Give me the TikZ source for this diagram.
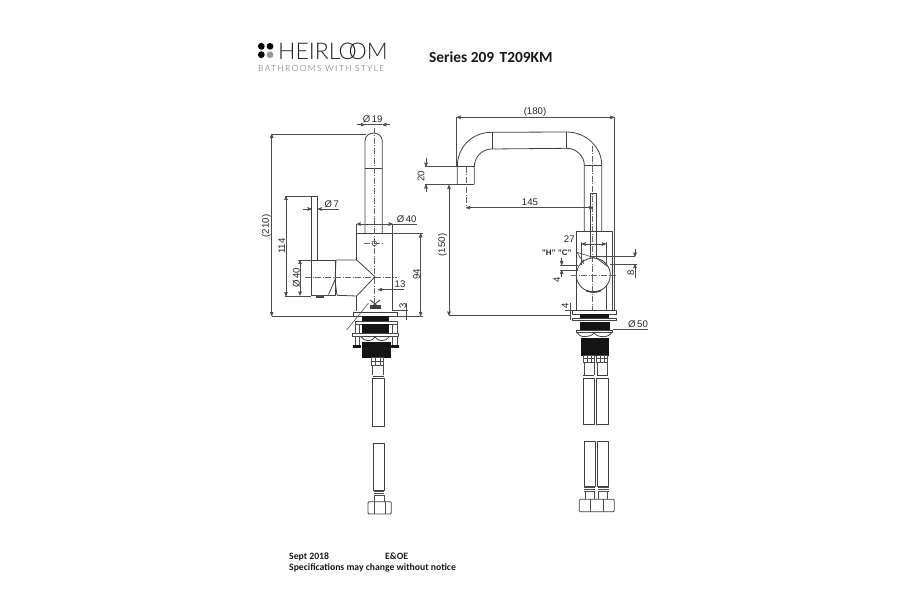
\documentclass[tikz,border=0pt]{standalone}
\usepackage{fontspec}
\usetikzlibrary{arrows}
\newfontfamily\logofont{Lato Light}
\newfontfamily\notefont{Carlito}
\setmainfont{Liberation Sans}

\tikzset{
  part/.style={draw=black!75,line width=.8pt,line join=round},
  thin part/.style={draw=black!70,line width=.6pt},
  solid part/.style={fill=black!92,draw=black!92},
  dimline/.style={draw=black!70,line width=.6pt},
  arrowed/.style={dimline,<->,>=stealth'},
  centerline/.style={draw=black!60,line width=.5pt,dash pattern=on 6pt off 1.5pt on 1pt off 1.5pt},
  dimtext/.style={inner sep=0pt,font=\fontsize{9.6}{10}\selectfont,text=black!85},
  notetext/.style={inner sep=0pt,anchor=base west,font=\notefont\bfseries\fontsize{9.7}{10}\selectfont,text=black!90},
}

\begin{document}
\begin{tikzpicture}[x=1pt,y=-1pt]
  \useasboundingbox (0,0) rectangle (900,615);

  % logo
  \foreach \dotx/\doty/\dotcol in {261.3/46.3/black,270/46.3/black,261.3/54.7/black,270/54.7/black!40}
    \fill[\dotcol] (\dotx,\doty) circle (3.4);
  \node[inner sep=0pt,anchor=west,font=\logofont\fontsize{23}{23}\selectfont,text=black!85] (logo) at (278,51)
    {HEIRL\kern-.08em O\kern-.36em OM};
  \node[inner sep=0pt,anchor=west,font=\logofont\fontsize{8.5}{9}\selectfont,text=black!65] (tagline) at (258,68.5)
    {\addfontfeature{LetterSpace=16}BATHROOMS WITH STYLE};
  \node[inner sep=0pt,anchor=west,font=\notefont\bfseries\fontsize{15.4}{15}\selectfont,text=black!90] (series) at (429,57.5)
    {Series 209\hspace{.35em}T209KM};

  % side view: spout and body
  \draw[part] (365,234) -- (365,141) .. controls (365,136) and (369,133) .. (373.7,133)
    .. controls (378,133) and (382.3,136) .. (382.3,141) -- (382.3,234);
  \draw[part] (365,168) -- (382.3,168);
  \draw[part] (356.7,260) -- (356.7,233.5) -- (392.7,233.5) -- (392.7,310.7);
  \draw[part] (356.7,296) -- (356.7,310.7);
  % side view: handle
  \draw[part] (311.7,260) -- (311.7,196) -- (317.7,196) -- (317.7,260);
  \draw[part] (311,260) rectangle (335.5,295.3);
  \draw[part] (335.5,260) -- (356.7,260) -- (375,276.7) -- (356.7,296) -- (337,295.3);
  \draw[part] (336,260) -- (335,280) -- (337,295.3);
  \draw[part] (335,280) -- (328.5,294.5);
  \fill[black!70] (316,295.3) rectangle (323.5,298.2);
  % side view: small valve under the body
  \draw[part] (370,300) -- (380,308) (380,300) -- (370,308);
  \fill[black!75] (370,305) rectangle (381,309);

  % side view: centre lines
  \draw[centerline] (374.3,128) -- (374.3,303);
  \draw[centerline] (305,277.3) -- (396.7,277.3);
  \draw[thin part] (374.3,243.3) circle (2.4);
  \draw[centerline] (364.3,243.3) -- (384.3,243.3);

  % side view: dimensions
  \draw[dimline] (271.5,134) -- (366,134);
  \draw[dimline] (271.5,316) -- (423,316);
  \draw[arrowed] (271.7,134) -- (271.7,316);
  \node[dimtext,rotate=90] (d210) at (266.5,226) {(210)};
  \draw[dimline] (285,196) -- (311.7,196) (285,296) -- (311,296);
  \draw[arrowed] (286,196) -- (286,296);
  \node[dimtext,rotate=90] (d114) at (281.7,246) {114};
  \draw[dimline] (298,260) -- (311,260);
  \draw[arrowed] (300,260) -- (300,295.5);
  \node[dimtext,rotate=90] (d40a) at (296.3,278) {\O\,40};
  \draw[dimline,->,>=stealth'] (356.7,124.7) -- (365,124.7);
  \draw[dimline,->,>=stealth'] (390,124.7) -- (382.3,124.7);
  \draw[dimline] (365,124.7) -- (382.3,124.7);
  \node[dimtext] (d19) at (372.7,119.5) {\O\,19};
  \draw[dimline,->,>=stealth'] (303,209) -- (311.7,209);
  \draw[dimline,->,>=stealth'] (339,209) -- (317.7,209);
  \node[dimtext] (d7) at (331.7,204) {\O\,7};
  \draw[dimline] (356.7,224) -- (356.7,233) (392.7,224) -- (392.7,233);
  \draw[arrowed] (356.7,224) -- (392.7,224);
  \draw[dimline] (392.7,224) -- (416.7,224);
  \node[dimtext] (d40b) at (406.7,219) {\O\,40};
  \draw[dimline] (392.7,233.5) -- (423,233.5);
  \draw[arrowed] (420.7,233.5) -- (420.7,316);
  \node[dimtext,rotate=90] (d94) at (416.5,274) {94};
  \draw[dimline,<-,>=stealth'] (378,289.7) -- (404,289.7);
  \node[dimtext] (d13) at (400,284.5) {13};
  \draw[dimline] (392.7,310.4) -- (408,310.4);
  \draw[dimline] (406.7,303) -- (406.7,320);
  \node[dimtext,rotate=90] (d3) at (402.7,306) {3};
  \draw[dimline] (346.7,330) -- (368.3,303.3);

  % side view: mounting
  \draw[part] (353.3,312.3) rectangle (397.3,316);
  \filldraw[solid part] (361.7,316) rectangle (388.3,320.5);
  \draw[part] (355,321.7) rectangle (397.3,324.3);
  \filldraw[solid part] (361.7,324.3) rectangle (388.3,333.3);
  \draw[part] (352.7,333.3) rectangle (398.3,336);
  \foreach \boltx in {355,392.3} {
    \draw[thin part] (\boltx,324.3) rectangle (\boltx+4.5,333.3);
    \draw[thin part] (\boltx,336) rectangle (\boltx+4.5,345);
    \filldraw[solid part] (\boltx-1.5,345.5) rectangle (\boltx+5.5,347.5);
  }
  \draw[part] (361,336.5) .. controls (364,342) and (372,342) .. (375,337) .. controls (378,342) and (386,342) .. (389.5,336.5);
  \filldraw[solid part] (361.7,341.8) rectangle (390,357.3);

  % side view: hose
  \draw[thin part] (371.7,357.3) rectangle (383.3,365);
  \draw[thin part] (371.7,361) -- (383.3,361) (375,357.3) -- (375,365) (380,357.3) -- (380,365);
  \draw[thin part] (372.5,365) -- (372.5,375) (383,365) -- (383,375);
  \draw[part] (372.7,376.3) -- (384,376.3);
  \draw[part] (372.7,378) rectangle (384,426.7);
  \draw[part] (373.3,443.3) rectangle (384.3,490);
  \foreach \ridgey in {491,493,495} \draw[thin part] (374,\ridgey) -- (384,\ridgey);
  \draw[thin part] (374.7,495) -- (374.7,501.7) (384,495) -- (384,501.7);
  \draw[part,rounded corners=1pt] (368,501.7) rectangle (391.3,514);
  \draw[thin part] (374,501.7) -- (374,514) (385,501.7) -- (385,514);

  % front view: spout
  \draw[part] (457.3,184.5) -- (457.3,166.7) .. controls (457.3,147) and (472,132.3) .. (491.7,132.3)
    -- (566.7,132) .. controls (586,132) and (601.7,147) .. (601.7,165) -- (601.7,232);
  \draw[part] (474.3,184.5) -- (474.3,166.7) .. controls (474.3,157) and (482,149) .. (491.7,149)
    -- (566.7,148.3) .. controls (576,148.3) and (584.3,156) .. (584.3,165) -- (584.3,232);
  \draw[part] (457.3,166.7) -- (474.3,166.7) (457.3,184.5) -- (474.3,184.5);
  \draw[part] (492,132.3) -- (492,149) (566.3,132) -- (566.3,148.3);
  \draw[part] (584.3,165) -- (601.7,165);
  % front view: lever and body
  \draw[part] (590.3,258) -- (590.3,193.3) -- (596,193.3) -- (596,258);
  \draw[centerline] (592.7,146) -- (592.7,310);
  \draw[centerline] (466,167) -- (466,207);
  \draw[part] (576,310) -- (576,231.7) -- (612.3,231.7) -- (612.3,310);
  \draw[part] (593.3,275) circle (17);
  \draw[centerline] (571,275) -- (616,275);
  \draw[part,line width=1.6pt] (586,290.5) .. controls (590,292.5) and (597,292.5) .. (601,290.5);
  \draw[part,line width=1.2pt] (580.5,264) -- (584,260);
  \draw[part] (597,258.5) -- (607,266);
  \draw[dimline] (606.5,285) -- (606.5,310);

  % front view: dimensions
  \draw[dimline] (456.7,117.3) -- (456.7,166) (614.3,117.3) -- (614.3,310);
  \draw[arrowed] (456.7,117.3) -- (614.3,117.3);
  \node[dimtext] (d180) at (535,112.3) {(180)};
  \draw[dimline] (425,166.7) -- (457.3,166.7) (425,184.5) -- (457.3,184.5);
  \draw[dimline,->,>=stealth'] (426,158) -- (426,166.7);
  \draw[dimline,->,>=stealth'] (426,192) -- (426,184.5);
  \node[dimtext,rotate=90] (d20) at (421,176) {20};
  \draw[arrowed] (466,207.7) -- (593.3,207.7);
  \node[dimtext] (d145) at (530,202.3) {145};
  \draw[dimline] (449,315.5) -- (570,315.5);
  \draw[arrowed] (449,185) -- (449,315.5);
  \node[dimtext,rotate=90] (d150) at (442.7,245) {(150)};
  \draw[dimline] (581.7,242) -- (581.7,265) (606,242) -- (606,265);
  \draw[arrowed] (581.7,244) -- (606,244);
  \node[dimtext] (d27) at (569.3,239.3) {27};
  \node[dimtext,font=\fontsize{8}{8}\selectfont\bfseries] (hc) at (556.7,252.3) {"H" "C"};
  \draw[dimline] (577,252.3) -- (584,264) (577,252.3) -- (595,258);
  \draw[dimline] (590.7,256.7) -- (635,256.7) (610,264) -- (636.7,264);
  \draw[dimline,->,>=stealth'] (635,249) -- (635,256.7);
  \draw[dimline,->,>=stealth'] (635,278) -- (635,264);
  \node[dimtext,rotate=90] (d8) at (630.7,273) {8};
  \draw[dimline] (560,265) -- (578,265) (560,270) -- (578,270);
  \draw[dimline,->,>=stealth'] (561.7,258) -- (561.7,265);
  \draw[dimline,->,>=stealth'] (561.7,277) -- (561.7,270);
  \node[dimtext,rotate=90] (d4a) at (556.7,280) {4};
  \draw[dimline] (565,310) -- (572.7,310) (570,303) -- (570,320);
  \node[dimtext,rotate=90] (d4b) at (565,306) {4};
  \draw[dimline] (613,329) -- (648,329);
  \node[dimtext] (d50) at (638,323.7) {\O\,50};

  % front view: mounting
  \draw[part] (572.7,310.5) rectangle (616.7,314);
  \filldraw[solid part] (580,314) rectangle (608.3,317.3);
  \draw[part] (572.7,318.3) rectangle (616.7,320.5);
  \filldraw[solid part] (580,321.7) rectangle (609.3,330);
  \draw[part] (576,330.5) rectangle (612,332.5);
  \draw[part] (577,332.5) .. controls (579,338) and (590,338) .. (594,333) .. controls (598,338) and (609,338) .. (611.5,332.5);
  \filldraw[solid part] (581,338) rectangle (608.3,355);

  % front view: hoses
  \foreach \hosex in {583.3,596.7} {
    \draw[thin part] (\hosex,355) rectangle (\hosex+11,362);
    \draw[thin part] (\hosex,358.5) -- (\hosex+11,358.5) (\hosex+3.5,355) -- (\hosex+3.5,362) (\hosex+7.5,355) -- (\hosex+7.5,362);
    \draw[thin part] (\hosex+.5,362) -- (\hosex+.5,375) (\hosex+10.5,362) -- (\hosex+10.5,375);
    \draw[part] (\hosex,375.5) -- (\hosex+11,375.5);
    \draw[part] (\hosex,378) rectangle (\hosex+11.3,424);
    \draw[part] (\hosex+1,441) rectangle (\hosex+12,486.7);
    \foreach \ridgey in {487.5,489.5,491.5} \draw[thin part] (\hosex+1,\ridgey) -- (\hosex+12,\ridgey);
    \draw[thin part] (\hosex+2,491.5) -- (\hosex+2,499.3) (\hosex+11,491.5) -- (\hosex+11,499.3);
  }
  \draw[part,rounded corners=1pt] (579.3,499.3) rectangle (614.3,511.7);
  \draw[thin part] (590,499.3) -- (590,511.7) (603.3,499.3) -- (603.3,511.7);

  % footer
  \node[notetext] (date) at (289,559) {Sept 2018};
  \node[notetext] (eoe) at (385,559) {E\&OE};
  \node[notetext] (notice) at (289,570.5) {Specifications may change without notice};
\end{tikzpicture}
\end{document}
